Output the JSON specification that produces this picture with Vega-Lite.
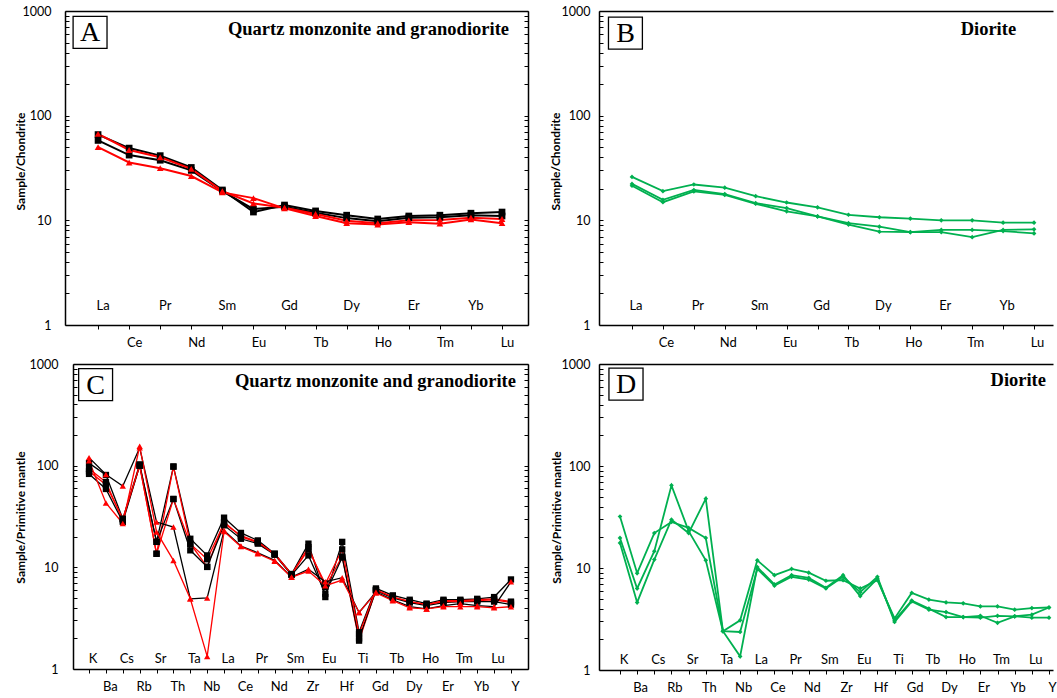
{
"$schema": "https://vega.github.io/schema/vega-lite/v6.json",
"padding": {"left": 14, "top": 5, "right": 0, "bottom": 0},
"config": {
  "view": {"stroke": null},
  "axis": {"domainColor": "black", "domainWidth": 1.5, "tickColor": "black", "tickWidth": 1, "labelColor": "black", "titleColor": "black", "labelFont": "Lato", "titleFont": "Lato", "grid": false, "labelOverlap": false}
},
"columns": 2,
"spacing": {"row": 9, "column": 13},
"concat": [
{
  "width": 455, "height": 314,
  "resolve": {"axis": {"y": "independent"}},
  "data": {"values": [
{"e":"La","s":"k1","g":"k","v":66},{"e":"Ce","s":"k1","g":"k","v":49},{"e":"Pr","s":"k1","g":"k","v":41.5},{"e":"Nd","s":"k1","g":"k","v":32},{"e":"Sm","s":"k1","g":"k","v":19.5},{"e":"Eu","s":"k1","g":"k","v":12.0},{"e":"Gd","s":"k1","g":"k","v":14.0},{"e":"Tb","s":"k1","g":"k","v":12.3},{"e":"Dy","s":"k1","g":"k","v":11.2},{"e":"Ho","s":"k1","g":"k","v":10.3},{"e":"Er","s":"k1","g":"k","v":11.0},{"e":"Tm","s":"k1","g":"k","v":11.2},{"e":"Yb","s":"k1","g":"k","v":11.7},{"e":"Lu","s":"k1","g":"k","v":12.0},
{"e":"La","s":"k2","g":"k","v":58},{"e":"Ce","s":"k2","g":"k","v":42},{"e":"Pr","s":"k2","g":"k","v":37.5},{"e":"Nd","s":"k2","g":"k","v":30},{"e":"Sm","s":"k2","g":"k","v":19},{"e":"Eu","s":"k2","g":"k","v":12.8},{"e":"Gd","s":"k2","g":"k","v":13.5},{"e":"Tb","s":"k2","g":"k","v":11.8},{"e":"Dy","s":"k2","g":"k","v":10.5},{"e":"Ho","s":"k2","g":"k","v":9.8},{"e":"Er","s":"k2","g":"k","v":10.6},{"e":"Tm","s":"k2","g":"k","v":10.7},{"e":"Yb","s":"k2","g":"k","v":11.2},{"e":"Lu","s":"k2","g":"k","v":11.0},
{"e":"La","s":"r1","g":"r","v":67},{"e":"Ce","s":"r1","g":"r","v":47},{"e":"Pr","s":"r1","g":"r","v":40},{"e":"Nd","s":"r1","g":"r","v":31},{"e":"Sm","s":"r1","g":"r","v":19},{"e":"Eu","s":"r1","g":"r","v":14.5},{"e":"Gd","s":"r1","g":"r","v":13.2},{"e":"Tb","s":"r1","g":"r","v":11.5},{"e":"Dy","s":"r1","g":"r","v":9.9},{"e":"Ho","s":"r1","g":"r","v":9.4},{"e":"Er","s":"r1","g":"r","v":10.0},{"e":"Tm","s":"r1","g":"r","v":10.1},{"e":"Yb","s":"r1","g":"r","v":10.6},{"e":"Lu","s":"r1","g":"r","v":10.3},
{"e":"La","s":"r2","g":"r","v":50},{"e":"Ce","s":"r2","g":"r","v":35.7},{"e":"Pr","s":"r2","g":"r","v":31.5},{"e":"Nd","s":"r2","g":"r","v":26.5},{"e":"Sm","s":"r2","g":"r","v":18.5},{"e":"Eu","s":"r2","g":"r","v":16.3},{"e":"Gd","s":"r2","g":"r","v":13.0},{"e":"Tb","s":"r2","g":"r","v":11.0},{"e":"Dy","s":"r2","g":"r","v":9.4},{"e":"Ho","s":"r2","g":"r","v":9.1},{"e":"Er","s":"r2","g":"r","v":9.6},{"e":"Tm","s":"r2","g":"r","v":9.3},{"e":"Yb","s":"r2","g":"r","v":10.2},{"e":"Lu","s":"r2","g":"r","v":9.4}
  ]},
  "encoding": {
    "x": {"field": "e", "type": "ordinal", "sort": ["La","Ce","Pr","Nd","Sm","Eu","Gd","Tb","Dy","Ho","Er","Tm","Yb","Lu"],
      "scale": {"type": "point", "range": [-8, 455], "padding": 0.95, "align": 0.56},
      "axis": {"title": null, "labelAngle": 0, "tickSize": 4, "labelPadding": 13, "labelBaseline": "middle", "labelFontSize": 13, "labelOffset": 5,
        "labelExpr": "indexof(['La','Ce','Pr','Nd','Sm','Eu','Gd','Tb','Dy','Ho','Er','Tm','Yb','Lu'], datum.value) % 2 == 1 ? datum.label : ''"}}
  },
  "layer": [
    {"mark": {"type": "line", "strokeWidth": 2},
     "encoding": {
       "y": {"field": "v", "type": "quantitative", "scale": {"type": "log", "domain": [1, 1000]},
         "axis": {"orient": "left", "offset": 8, "title": "Sample/Chondrite", "values": [1,2,3,4,5,6,7,8,9,10,20,30,40,50,60,70,80,90,100,200,300,400,500,600,700,800,900,1000],
           "format": "d", "labelExpr": "(datum.value==1||datum.value==10||datum.value==100||datum.value==1000) ? datum.label : ''",
           "tickSize": -4, "labelPadding": 18, "labelFontSize": 12.5, "titleFontSize": 12, "titleFontWeight": "bold", "titleX": -38, "titleY": 150,
           "grid": true, "gridColor": "black", "gridWidth": 1.5, "gridOpacity": {"condition": {"test": "datum.value == 1000", "value": 1}, "value": 0}}},
       "color": {"field": "g", "type": "nominal", "scale": {"domain": ["k","r"], "range": ["#000000","#ff0000"]}, "legend": null}, "detail": {"field": "s"}}},
    {"mark": {"type": "point", "filled": true, "opacity": 1, "size": 45},
     "encoding": {
       "y": {"field": "v", "type": "quantitative", "scale": {"type": "log", "domain": [1, 1000]}, "axis": null},
       "color": {"field": "g", "type": "nominal", "scale": {"domain": ["k","r"], "range": ["#000000","#ff0000"]}, "legend": null},
       "shape": {"field": "g", "type": "nominal", "scale": {"domain": ["k","r"], "range": ["square","triangle-up"]}, "legend": null}}},
    {"transform": [{"filter": "datum.s == 'k1' && indexof(['La','Ce','Pr','Nd','Sm','Eu','Gd','Tb','Dy','Ho','Er','Tm','Yb','Lu'], datum.e) % 2 == 0"}],
     "mark": {"type": "text", "font": "Lato", "fontSize": 13, "dx": 5, "baseline": "middle", "align": "center", "color": "black"},
     "encoding": {"y": {"datum": 1.51, "type": "quantitative", "scale": {"type": "log", "domain": [1, 1000]}, "axis": null}, "text": {"field": "e", "type": "nominal"}}},
    {"transform": [{"filter": "datum.s == 'k1' && datum.e == 'La'"}],
     "mark": {"type": "point", "shape": "M-1.56,-1H0.56V1H-1.56Z", "size": 1024, "filled": false, "color": "black", "strokeWidth": 1.3, "opacity": 1},
     "encoding": {"y": {"datum": 624, "type": "quantitative", "scale": {"type": "log", "domain": [1, 1000]}, "axis": null}}},
    {"transform": [{"filter": "datum.s == 'k1' && datum.e == 'La'"}],
     "mark": {"type": "text", "font": "Liberation Serif", "fontSize": 28, "dx": -8, "dy": 1, "baseline": "middle", "align": "center", "color": "black"},
     "encoding": {"y": {"datum": 624, "type": "quantitative", "scale": {"type": "log", "domain": [1, 1000]}, "axis": null}, "text": {"value": "A"}}},
    {"transform": [{"filter": "datum.s == 'k1' && datum.e == 'Lu'"}],
     "mark": {"type": "text", "font": "Liberation Serif", "fontWeight": "bold", "fontSize": 18.5, "dx": 7, "baseline": "middle", "align": "right", "color": "black"},
     "encoding": {"y": {"datum": 673, "type": "quantitative", "scale": {"type": "log", "domain": [1, 1000]},
        "axis": {"orient": "right", "title": null, "labels": false, "grid": false, "tickSize": -4, "values": [1,2,3,4,5,6,7,8,9,10,20,30,40,50,60,70,80,90,100,200,300,400,500,600,700,800,900,1000]}},
       "text": {"value": "Quartz monzonite and granodiorite"}}}
  ]
},
{
  "width": 454, "height": 314,
  "resolve": {"axis": {"y": "independent"}},
  "data": {"values": [
{"e":"La","s":"g1","v":26},{"e":"Ce","s":"g1","v":19},{"e":"Pr","s":"g1","v":22},{"e":"Nd","s":"g1","v":20.5},{"e":"Sm","s":"g1","v":17},{"e":"Eu","s":"g1","v":14.8},{"e":"Gd","s":"g1","v":13.3},{"e":"Tb","s":"g1","v":11.3},{"e":"Dy","s":"g1","v":10.7},{"e":"Ho","s":"g1","v":10.4},{"e":"Er","s":"g1","v":10.0},{"e":"Tm","s":"g1","v":10.0},{"e":"Yb","s":"g1","v":9.5},{"e":"Lu","s":"g1","v":9.5},
{"e":"La","s":"g2","v":22.3},{"e":"Ce","s":"g2","v":15.7},{"e":"Pr","s":"g2","v":19.5},{"e":"Nd","s":"g2","v":17.8},{"e":"Sm","s":"g2","v":14.6},{"e":"Eu","s":"g2","v":13.1},{"e":"Gd","s":"g2","v":10.9},{"e":"Tb","s":"g2","v":9.4},{"e":"Dy","s":"g2","v":8.7},{"e":"Ho","s":"g2","v":7.7},{"e":"Er","s":"g2","v":7.7},{"e":"Tm","s":"g2","v":6.9},{"e":"Yb","s":"g2","v":8.1},{"e":"Lu","s":"g2","v":8.2},
{"e":"La","s":"g3","v":21.4},{"e":"Ce","s":"g3","v":14.9},{"e":"Pr","s":"g3","v":18.9},{"e":"Nd","s":"g3","v":17.5},{"e":"Sm","s":"g3","v":14.4},{"e":"Eu","s":"g3","v":12.2},{"e":"Gd","s":"g3","v":10.9},{"e":"Tb","s":"g3","v":9.1},{"e":"Dy","s":"g3","v":7.8},{"e":"Ho","s":"g3","v":7.7},{"e":"Er","s":"g3","v":8.1},{"e":"Tm","s":"g3","v":8.1},{"e":"Yb","s":"g3","v":7.9},{"e":"Lu","s":"g3","v":7.5}
  ]},
  "encoding": {
    "x": {"field": "e", "type": "ordinal", "sort": ["La","Ce","Pr","Nd","Sm","Eu","Gd","Tb","Dy","Ho","Er","Tm","Yb","Lu"],
      "scale": {"type": "point", "padding": 0.84, "align": 0.635},
      "axis": {"title": null, "labelAngle": 0, "tickSize": 4, "labelPadding": 13, "labelBaseline": "middle", "labelFontSize": 13, "labelOffset": 3,
        "labelExpr": "indexof(['La','Ce','Pr','Nd','Sm','Eu','Gd','Tb','Dy','Ho','Er','Tm','Yb','Lu'], datum.value) % 2 == 1 ? datum.label : ''"}}
  },
  "layer": [
    {"mark": {"type": "line", "strokeWidth": 1.8, "color": "#00b050"},
     "encoding": {
       "y": {"field": "v", "type": "quantitative", "scale": {"type": "log", "domain": [1, 1000]},
         "axis": {"orient": "left", "title": "Sample/Chondrite", "values": [1,2,3,4,5,6,7,8,9,10,20,30,40,50,60,70,80,90,100,200,300,400,500,600,700,800,900,1000],
           "format": "d", "labelExpr": "(datum.value==1||datum.value==10||datum.value==100||datum.value==1000) ? datum.label : ''",
           "tickSize": -4, "labelPadding": 13, "labelFontSize": 12.5, "titleFontSize": 12, "titleFontWeight": "bold", "titleX": -37, "titleY": 150,
           "grid": true, "gridColor": "black", "gridWidth": 1.5, "gridOpacity": {"condition": {"test": "datum.value == 1000", "value": 1}, "value": 0}}},
       "detail": {"field": "s"}}},
    {"mark": {"type": "point", "filled": true, "opacity": 1, "size": 22, "shape": "diamond", "color": "#00b050"},
     "encoding": {"y": {"field": "v", "type": "quantitative", "scale": {"type": "log", "domain": [1, 1000]}, "axis": null}, "detail": {"field": "s"}}},
    {"transform": [{"filter": "datum.s == 'g1' && indexof(['La','Ce','Pr','Nd','Sm','Eu','Gd','Tb','Dy','Ho','Er','Tm','Yb','Lu'], datum.e) % 2 == 0"}],
     "mark": {"type": "text", "font": "Lato", "fontSize": 13, "dx": 4, "baseline": "middle", "align": "center", "color": "black"},
     "encoding": {"y": {"datum": 1.51, "type": "quantitative", "scale": {"type": "log", "domain": [1, 1000]}, "axis": null}, "text": {"field": "e", "type": "nominal"}}},
    {"transform": [{"filter": "datum.s == 'g1' && datum.e == 'La'"}],
     "mark": {"type": "point", "shape": "M-1.47,-1H0.65V1H-1.47Z", "size": 1024, "filled": false, "color": "black", "strokeWidth": 1.3, "opacity": 1},
     "encoding": {"y": {"datum": 614, "type": "quantitative", "scale": {"type": "log", "domain": [1, 1000]}, "axis": null}}},
    {"transform": [{"filter": "datum.s == 'g1' && datum.e == 'La'"}],
     "mark": {"type": "text", "font": "Liberation Serif", "fontSize": 28, "dx": -6.5, "dy": 1, "baseline": "middle", "align": "center", "color": "black"},
     "encoding": {"y": {"datum": 614, "type": "quantitative", "scale": {"type": "log", "domain": [1, 1000]}, "axis": null}, "text": {"value": "B"}}},
    {"transform": [{"filter": "datum.s == 'g1' && datum.e == 'Yb'"}],
     "mark": {"type": "text", "font": "Liberation Serif", "fontWeight": "bold", "fontSize": 18.5, "dx": 13, "baseline": "middle", "align": "right", "color": "black"},
     "encoding": {"y": {"datum": 677, "type": "quantitative", "scale": {"type": "log", "domain": [1, 1000]}, "axis": null}, "text": {"value": "Diorite"}}}
  ]
},
{
  "width": 455, "height": 305,
  "resolve": {"axis": {"y": "independent"}},
  "data": {"values": [
{"e":"K","s":"k1","g":"k","v":106},{"e":"Ba","s":"k1","g":"k","v":81},{"e":"Cs","s":"k1","g":"k","v":30},{"e":"Rb","s":"k1","g":"k","v":103},{"e":"Sr","s":"k1","g":"k","v":17.8},{"e":"Th","s":"k1","g":"k","v":98},{"e":"Ta","s":"k1","g":"k","v":19.1},{"e":"Nb","s":"k1","g":"k","v":13.1},{"e":"La","s":"k1","g":"k","v":30.8},{"e":"Ce","s":"k1","g":"k","v":21.8},{"e":"Pr","s":"k1","g":"k","v":18.4},{"e":"Nd","s":"k1","g":"k","v":13.6},{"e":"Sm","s":"k1","g":"k","v":8.6},{"e":"Zr","s":"k1","g":"k","v":17.1},{"e":"Eu","s":"k1","g":"k","v":5.1},{"e":"Hf","s":"k1","g":"k","v":17.8},{"e":"Ti","s":"k1","g":"k","v":2.3},{"e":"Gd","s":"k1","g":"k","v":6.2},{"e":"Tb","s":"k1","g":"k","v":5.3},{"e":"Dy","s":"k1","g":"k","v":4.8},{"e":"Ho","s":"k1","g":"k","v":4.4},{"e":"Er","s":"k1","g":"k","v":4.8},{"e":"Tm","s":"k1","g":"k","v":4.8},{"e":"Yb","s":"k1","g":"k","v":4.9},{"e":"Lu","s":"k1","g":"k","v":5.1},{"e":"Y","s":"k1","g":"k","v":7.6},
{"e":"K","s":"k2","g":"k","v":93},{"e":"Ba","s":"k2","g":"k","v":69},{"e":"Cs","s":"k2","g":"k","v":29},{"e":"Rb","s":"k2","g":"k","v":100},{"e":"Sr","s":"k2","g":"k","v":13.6},{"e":"Th","s":"k2","g":"k","v":98},{"e":"Ta","s":"k2","g":"k","v":17.1},{"e":"Nb","s":"k2","g":"k","v":10.1},{"e":"La","s":"k2","g":"k","v":28},{"e":"Ce","s":"k2","g":"k","v":20},{"e":"Pr","s":"k2","g":"k","v":17.5},{"e":"Nd","s":"k2","g":"k","v":13.6},{"e":"Sm","s":"k2","g":"k","v":8.5},{"e":"Zr","s":"k2","g":"k","v":15.8},{"e":"Eu","s":"k2","g":"k","v":6.4},{"e":"Hf","s":"k2","g":"k","v":12.8},{"e":"Ti","s":"k2","g":"k","v":1.9},{"e":"Gd","s":"k2","g":"k","v":6.0},{"e":"Tb","s":"k2","g":"k","v":5.1},{"e":"Dy","s":"k2","g":"k","v":4.6},{"e":"Ho","s":"k2","g":"k","v":4.3},{"e":"Er","s":"k2","g":"k","v":4.7},{"e":"Tm","s":"k2","g":"k","v":4.7},{"e":"Yb","s":"k2","g":"k","v":4.8},{"e":"Lu","s":"k2","g":"k","v":4.9},{"e":"Y","s":"k2","g":"k","v":4.6},
{"e":"K","s":"k3","g":"k","v":83},{"e":"Ba","s":"k3","g":"k","v":59},{"e":"Cs","s":"k3","g":"k","v":28},{"e":"Rb","s":"k3","g":"k","v":100},{"e":"Sr","s":"k3","g":"k","v":17.8},{"e":"Th","s":"k3","g":"k","v":47},{"e":"Ta","s":"k3","g":"k","v":14.7},{"e":"Nb","s":"k3","g":"k","v":10.1},{"e":"La","s":"k3","g":"k","v":25.9},{"e":"Ce","s":"k3","g":"k","v":19.1},{"e":"Pr","s":"k3","g":"k","v":17.1},{"e":"Nd","s":"k3","g":"k","v":13.3},{"e":"Sm","s":"k3","g":"k","v":8.4},{"e":"Zr","s":"k3","g":"k","v":13.1},{"e":"Eu","s":"k3","g":"k","v":5.5},{"e":"Hf","s":"k3","g":"k","v":12.5},{"e":"Ti","s":"k3","g":"k","v":2.0},{"e":"Gd","s":"k3","g":"k","v":5.9},{"e":"Tb","s":"k3","g":"k","v":5.0},{"e":"Dy","s":"k3","g":"k","v":4.5},{"e":"Ho","s":"k3","g":"k","v":4.2},{"e":"Er","s":"k3","g":"k","v":4.5},{"e":"Tm","s":"k3","g":"k","v":4.6},{"e":"Yb","s":"k3","g":"k","v":4.6},{"e":"Lu","s":"k3","g":"k","v":4.6},{"e":"Y","s":"k3","g":"k","v":4.3},
{"e":"K","s":"k4","g":"k","v":88},{"e":"Ba","s":"k4","g":"k","v":65},{"e":"Cs","s":"k4","g":"k","v":30},{"e":"Rb","s":"k4","g":"k","v":100},{"e":"Sr","s":"k4","g":"k","v":13.6},{"e":"Th","s":"k4","g":"k","v":47},{"e":"Ta","s":"k4","g":"k","v":17},{"e":"Nb","s":"k4","g":"k","v":12},{"e":"La","s":"k4","g":"k","v":27},{"e":"Ce","s":"k4","g":"k","v":20.5},{"e":"Pr","s":"k4","g":"k","v":17.8},{"e":"Nd","s":"k4","g":"k","v":13.4},{"e":"Sm","s":"k4","g":"k","v":8.5},{"e":"Zr","s":"k4","g":"k","v":15},{"e":"Eu","s":"k4","g":"k","v":6.9},{"e":"Hf","s":"k4","g":"k","v":15},{"e":"Ti","s":"k4","g":"k","v":2.2},{"e":"Gd","s":"k4","g":"k","v":6.0},{"e":"Tb","s":"k4","g":"k","v":5.1},{"e":"Dy","s":"k4","g":"k","v":4.6},{"e":"Ho","s":"k4","g":"k","v":4.3},{"e":"Er","s":"k4","g":"k","v":4.6},{"e":"Tm","s":"k4","g":"k","v":4.6},{"e":"Yb","s":"k4","g":"k","v":4.7},{"e":"Lu","s":"k4","g":"k","v":4.8},{"e":"Y","s":"k4","g":"k","v":4.5},
{"e":"K","s":"r1","g":"r","v":120},{"e":"Ba","s":"r1","g":"r","v":82},{"e":"Cs","s":"r1","g":"r","v":63},{"e":"Rb","s":"r1","g":"r","v":150},{"e":"Sr","s":"r1","g":"r","v":27.9},{"e":"Th","s":"r1","g":"r","v":24.9},{"e":"Ta","s":"r1","g":"r","v":4.9},{"e":"Nb","s":"r1","g":"r","v":5.0},{"e":"La","s":"r1","g":"r","v":23.1},{"e":"Ce","s":"r1","g":"r","v":16.2},{"e":"Pr","s":"r1","g":"r","v":13.9},{"e":"Nd","s":"r1","g":"r","v":11.7},{"e":"Sm","s":"r1","g":"r","v":8.0},{"e":"Zr","s":"r1","g":"r","v":9.6},{"e":"Eu","s":"r1","g":"r","v":7.2},{"e":"Hf","s":"r1","g":"r","v":7.9},{"e":"Ti","s":"r1","g":"r","v":3.6},{"e":"Gd","s":"r1","g":"r","v":5.7},{"e":"Tb","s":"r1","g":"r","v":4.8},{"e":"Dy","s":"r1","g":"r","v":4.1},{"e":"Ho","s":"r1","g":"r","v":3.9},{"e":"Er","s":"r1","g":"r","v":4.2},{"e":"Tm","s":"r1","g":"r","v":4.4},{"e":"Yb","s":"r1","g":"r","v":4.2},{"e":"Lu","s":"r1","g":"r","v":4.1},{"e":"Y","s":"r1","g":"r","v":7.2},
{"e":"K","s":"r2","g":"r","v":112},{"e":"Ba","s":"r2","g":"r","v":43},{"e":"Cs","s":"r2","g":"r","v":27},{"e":"Rb","s":"r2","g":"r","v":155},{"e":"Sr","s":"r2","g":"r","v":22.3},{"e":"Th","s":"r2","g":"r","v":11.7},{"e":"Ta","s":"r2","g":"r","v":4.9},{"e":"Nb","s":"r2","g":"r","v":1.33},{"e":"La","s":"r2","g":"r","v":22.5},{"e":"Ce","s":"r2","g":"r","v":16.0},{"e":"Pr","s":"r2","g":"r","v":13.6},{"e":"Nd","s":"r2","g":"r","v":11.5},{"e":"Sm","s":"r2","g":"r","v":8.0},{"e":"Zr","s":"r2","g":"r","v":9.2},{"e":"Eu","s":"r2","g":"r","v":6.6},{"e":"Hf","s":"r2","g":"r","v":7.5},{"e":"Ti","s":"r2","g":"r","v":3.6},{"e":"Gd","s":"r2","g":"r","v":5.6},{"e":"Tb","s":"r2","g":"r","v":4.7},{"e":"Dy","s":"r2","g":"r","v":4.0},{"e":"Ho","s":"r2","g":"r","v":3.9},{"e":"Er","s":"r2","g":"r","v":4.1},{"e":"Tm","s":"r2","g":"r","v":4.1},{"e":"Yb","s":"r2","g":"r","v":4.1},{"e":"Lu","s":"r2","g":"r","v":4.0},{"e":"Y","s":"r2","g":"r","v":4.1}
  ]},
  "encoding": {
    "x": {"field": "e", "type": "ordinal", "sort": ["K","Ba","Cs","Rb","Sr","Th","Ta","Nb","La","Ce","Pr","Nd","Sm","Zr","Eu","Hf","Ti","Gd","Tb","Dy","Ho","Er","Tm","Yb","Lu","Y"],
      "scale": {"type": "point", "padding": 0.98, "align": 0.485},
      "axis": {"title": null, "labelAngle": 0, "tickSize": 4, "labelPadding": 13, "labelBaseline": "middle", "labelFontSize": 13, "labelOffset": 4,
        "labelExpr": "indexof(['K','Ba','Cs','Rb','Sr','Th','Ta','Nb','La','Ce','Pr','Nd','Sm','Zr','Eu','Hf','Ti','Gd','Tb','Dy','Ho','Er','Tm','Yb','Lu','Y'], datum.value) % 2 == 1 ? datum.label : ''"}}
  },
  "layer": [
    {"mark": {"type": "line", "strokeWidth": 1.3},
     "encoding": {
       "y": {"field": "v", "type": "quantitative", "scale": {"type": "log", "domain": [1, 1000]},
         "axis": {"orient": "left", "title": "Sample/Primitive mantle", "values": [1,2,3,4,5,6,7,8,9,10,20,30,40,50,60,70,80,90,100,200,300,400,500,600,700,800,900,1000],
           "format": "d", "labelExpr": "(datum.value==1||datum.value==10||datum.value==100||datum.value==1000) ? datum.label : ''",
           "tickSize": -4, "labelPadding": 19, "labelFontSize": 12.5, "titleFontSize": 12, "titleFontWeight": "bold", "titleX": -46, "titleY": 153,
           "grid": true, "gridColor": "black", "gridWidth": 1.5, "gridOpacity": {"condition": {"test": "datum.value == 1000", "value": 1}, "value": 0}}},
       "color": {"field": "s", "type": "nominal", "scale": {"domain": ["k1","k2","k3","k4","r1","r2"], "range": ["#111111","#333333","#555555","#777777","#ff0000","#ff0000"]}, "legend": null}, "detail": {"field": "s"}}},
    {"mark": {"type": "point", "filled": true, "opacity": 1, "size": 40},
     "encoding": {
       "y": {"field": "v", "type": "quantitative", "scale": {"type": "log", "domain": [1, 1000]}, "axis": null},
       "color": {"field": "g", "type": "nominal", "scale": {"domain": ["k","r"], "range": ["#000000","#ff0000"]}, "legend": null},
       "shape": {"field": "g", "type": "nominal", "scale": {"domain": ["k","r"], "range": ["square","triangle-up"]}, "legend": null}}},
    {"transform": [{"filter": "datum.s == 'k1' && indexof(['K','Ba','Cs','Rb','Sr','Th','Ta','Nb','La','Ce','Pr','Nd','Sm','Zr','Eu','Hf','Ti','Gd','Tb','Dy','Ho','Er','Tm','Yb','Lu','Y'], datum.e) % 2 == 0"}],
     "mark": {"type": "text", "font": "Lato", "fontSize": 13, "dx": 4, "baseline": "middle", "align": "center", "color": "black"},
     "encoding": {"y": {"datum": 1.254, "type": "quantitative", "scale": {"type": "log", "domain": [1, 1000]}, "axis": null}, "text": {"field": "e", "type": "nominal"}}},
    {"transform": [{"filter": "datum.s == 'k1' && datum.e == 'K'"}],
     "mark": {"type": "point", "shape": "M-0.65,-1H1.47V1H-0.65Z", "size": 1024, "filled": false, "color": "black", "strokeWidth": 1.3, "opacity": 1},
     "encoding": {"y": {"datum": 628, "type": "quantitative", "scale": {"type": "log", "domain": [1, 1000]}, "axis": null}}},
    {"transform": [{"filter": "datum.s == 'k1' && datum.e == 'K'"}],
     "mark": {"type": "text", "font": "Liberation Serif", "fontSize": 28, "dx": 6.5, "dy": 1, "baseline": "middle", "align": "center", "color": "black"},
     "encoding": {"y": {"datum": 628, "type": "quantitative", "scale": {"type": "log", "domain": [1, 1000]}, "axis": null}, "text": {"value": "C"}}},
    {"transform": [{"filter": "datum.s == 'k1' && datum.e == 'Y'"}],
     "mark": {"type": "text", "font": "Liberation Serif", "fontWeight": "bold", "fontSize": 18.5, "dx": 5, "baseline": "middle", "align": "right", "color": "black"},
     "encoding": {"y": {"datum": 681, "type": "quantitative", "scale": {"type": "log", "domain": [1, 1000]},
        "axis": {"orient": "right", "title": null, "labels": false, "grid": false, "tickSize": -4, "values": [1,2,3,4,5,6,7,8,9,10,20,30,40,50,60,70,80,90,100,200,300,400,500,600,700,800,900,1000]}},
       "text": {"value": "Quartz monzonite and granodiorite"}}}
  ]
},
{
  "width": 454, "height": 306,
  "resolve": {"axis": {"y": "independent"}},
  "data": {"values": [
{"e":"K","s":"g1","v":32},{"e":"Ba","s":"g1","v":8.9},{"e":"Cs","s":"g1","v":22},{"e":"Rb","s":"g1","v":28.3},{"e":"Sr","s":"g1","v":24.7},{"e":"Th","s":"g1","v":19.7},{"e":"Ta","s":"g1","v":2.4},{"e":"Nb","s":"g1","v":3.07},{"e":"La","s":"g1","v":11.9},{"e":"Ce","s":"g1","v":8.5},{"e":"Pr","s":"g1","v":9.8},{"e":"Nd","s":"g1","v":9.0},{"e":"Sm","s":"g1","v":7.5},{"e":"Zr","s":"g1","v":7.6},{"e":"Eu","s":"g1","v":6.3},{"e":"Hf","s":"g1","v":7.6},{"e":"Ti","s":"g1","v":3.2},{"e":"Gd","s":"g1","v":5.7},{"e":"Tb","s":"g1","v":4.9},{"e":"Dy","s":"g1","v":4.6},{"e":"Ho","s":"g1","v":4.5},{"e":"Er","s":"g1","v":4.2},{"e":"Tm","s":"g1","v":4.2},{"e":"Yb","s":"g1","v":3.9},{"e":"Lu","s":"g1","v":4.05},{"e":"Y","s":"g1","v":4.1},
{"e":"K","s":"g2","v":19.7},{"e":"Ba","s":"g2","v":6.3},{"e":"Cs","s":"g2","v":14.6},{"e":"Rb","s":"g2","v":64.6},{"e":"Sr","s":"g2","v":23},{"e":"Th","s":"g2","v":11.9},{"e":"Ta","s":"g2","v":2.4},{"e":"Nb","s":"g2","v":1.36},{"e":"La","s":"g2","v":10.2},{"e":"Ce","s":"g2","v":6.9},{"e":"Pr","s":"g2","v":8.5},{"e":"Nd","s":"g2","v":8.0},{"e":"Sm","s":"g2","v":6.4},{"e":"Zr","s":"g2","v":8.5},{"e":"Eu","s":"g2","v":5.3},{"e":"Hf","s":"g2","v":7.85},{"e":"Ti","s":"g2","v":3.07},{"e":"Gd","s":"g2","v":4.8},{"e":"Tb","s":"g2","v":4.0},{"e":"Dy","s":"g2","v":3.3},{"e":"Ho","s":"g2","v":3.3},{"e":"Er","s":"g2","v":3.26},{"e":"Tm","s":"g2","v":3.4},{"e":"Yb","s":"g2","v":3.36},{"e":"Lu","s":"g2","v":3.26},{"e":"Y","s":"g2","v":3.26},
{"e":"K","s":"g3","v":17.6},{"e":"Ba","s":"g3","v":4.6},{"e":"Cs","s":"g3","v":12.1},{"e":"Rb","s":"g3","v":29.8},{"e":"Sr","s":"g3","v":22},{"e":"Th","s":"g3","v":47.8},{"e":"Ta","s":"g3","v":2.4},{"e":"Nb","s":"g3","v":2.36},{"e":"La","s":"g3","v":9.8},{"e":"Ce","s":"g3","v":6.7},{"e":"Pr","s":"g3","v":8.2},{"e":"Nd","s":"g3","v":7.7},{"e":"Sm","s":"g3","v":6.3},{"e":"Zr","s":"g3","v":8.2},{"e":"Eu","s":"g3","v":5.8},{"e":"Hf","s":"g3","v":8.2},{"e":"Ti","s":"g3","v":2.96},{"e":"Gd","s":"g3","v":4.7},{"e":"Tb","s":"g3","v":3.9},{"e":"Dy","s":"g3","v":3.7},{"e":"Ho","s":"g3","v":3.3},{"e":"Er","s":"g3","v":3.4},{"e":"Tm","s":"g3","v":2.9},{"e":"Yb","s":"g3","v":3.36},{"e":"Lu","s":"g3","v":3.49},{"e":"Y","s":"g3","v":4.1}
  ]},
  "encoding": {
    "x": {"field": "e", "type": "ordinal", "sort": ["K","Ba","Cs","Rb","Sr","Th","Ta","Nb","La","Ce","Pr","Nd","Sm","Zr","Eu","Hf","Ti","Gd","Tb","Dy","Ho","Er","Tm","Yb","Lu","Y"],
      "scale": {"type": "point", "padding": 0.728, "align": 0.84},
      "axis": {"title": null, "labelAngle": 0, "tickSize": 4, "labelPadding": 13, "labelBaseline": "middle", "labelFontSize": 13, "labelOffset": 3,
        "labelExpr": "indexof(['K','Ba','Cs','Rb','Sr','Th','Ta','Nb','La','Ce','Pr','Nd','Sm','Zr','Eu','Hf','Ti','Gd','Tb','Dy','Ho','Er','Tm','Yb','Lu','Y'], datum.value) % 2 == 1 ? datum.label : ''"}}
  },
  "layer": [
    {"mark": {"type": "line", "strokeWidth": 1.8, "color": "#00b050"},
     "encoding": {
       "y": {"field": "v", "type": "quantitative", "scale": {"type": "log", "domain": [1, 1000]},
         "axis": {"orient": "left", "title": "Sample/Primitive mantle", "values": [1,2,3,4,5,6,7,8,9,10,20,30,40,50,60,70,80,90,100,200,300,400,500,600,700,800,900,1000],
           "format": "d", "labelExpr": "(datum.value==1||datum.value==10||datum.value==100||datum.value==1000) ? datum.label : ''",
           "tickSize": -4, "labelPadding": 13, "labelFontSize": 12.5, "titleFontSize": 12, "titleFontWeight": "bold", "titleX": -36, "titleY": 153,
           "grid": true, "gridColor": "black", "gridWidth": 1.5, "gridOpacity": {"condition": {"test": "datum.value == 1000", "value": 1}, "value": 0}}},
       "detail": {"field": "s"}}},
    {"mark": {"type": "point", "filled": true, "opacity": 1, "size": 22, "shape": "diamond", "color": "#00b050"},
     "encoding": {"y": {"field": "v", "type": "quantitative", "scale": {"type": "log", "domain": [1, 1000]}, "axis": null}, "detail": {"field": "s"}}},
    {"transform": [{"filter": "datum.s == 'g1' && indexof(['K','Ba','Cs','Rb','Sr','Th','Ta','Nb','La','Ce','Pr','Nd','Sm','Zr','Eu','Hf','Ti','Gd','Tb','Dy','Ho','Er','Tm','Yb','Lu','Y'], datum.e) % 2 == 0"}],
     "mark": {"type": "text", "font": "Lato", "fontSize": 13, "dx": 4, "baseline": "middle", "align": "center", "color": "black"},
     "encoding": {"y": {"datum": 1.25, "type": "quantitative", "scale": {"type": "log", "domain": [1, 1000]}, "axis": null}, "text": {"field": "e", "type": "nominal"}}},
    {"transform": [{"filter": "datum.s == 'g1' && datum.e == 'K'"}],
     "mark": {"type": "point", "shape": "M-0.69,-1H1.44V1H-0.69Z", "size": 1024, "filled": false, "color": "black", "strokeWidth": 1.3, "opacity": 1},
     "encoding": {"y": {"datum": 636, "type": "quantitative", "scale": {"type": "log", "domain": [1, 1000]}, "axis": null}}},
    {"transform": [{"filter": "datum.s == 'g1' && datum.e == 'K'"}],
     "mark": {"type": "text", "font": "Liberation Serif", "fontSize": 28, "dx": 6, "dy": 1, "baseline": "middle", "align": "center", "color": "black"},
     "encoding": {"y": {"datum": 636, "type": "quantitative", "scale": {"type": "log", "domain": [1, 1000]}, "axis": null}, "text": {"value": "D"}}},
    {"transform": [{"filter": "datum.s == 'g1' && datum.e == 'Y'"}],
     "mark": {"type": "text", "font": "Liberation Serif", "fontWeight": "bold", "fontSize": 18.5, "dx": -3, "baseline": "middle", "align": "right", "color": "black"},
     "encoding": {"y": {"datum": 697, "type": "quantitative", "scale": {"type": "log", "domain": [1, 1000]}, "axis": null}, "text": {"value": "Diorite"}}}
  ]
}
]
}
